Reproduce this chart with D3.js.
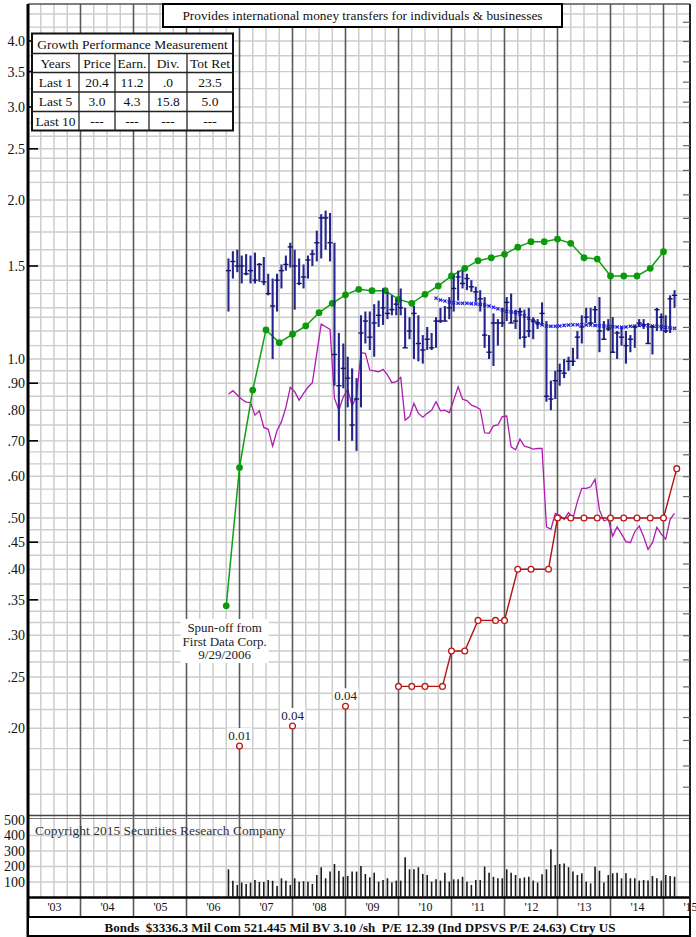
<!DOCTYPE html>
<html><head><meta charset="utf-8">
<script src="https://cdn.jsdelivr.net/npm/d3@7"></script>
<style>
body{margin:0;background:#fff;}
svg{display:block;font-family:"Liberation Serif","Times New Roman",serif;}
</style>
</head><body><svg id="c" width="696" height="937"></svg>
<script>
// ---------------- DATA ----------------
const priceTicks = [4.0,3.5,3.0,2.5,2.0,1.5,1.0,0.9,0.8,0.7,0.6,0.5,0.45,0.4,0.35,0.3,0.25,0.2];
const priceTickLabels = ["4.0","3.5","3.0","2.5","2.0","1.5","1.0",".90",".80",".70",".60",".50",".45",".40",".35",".30",".25",".20"];
const markedTicks = [4.0,3.5,3.0,2.5,1.5,0.9,0.7,0.45,0.35];
const gridValues = [4.5,4.25,4.0,3.75,3.5,3.25,3.0,2.8,2.64,2.5,2.4,2.27,2.16,2.0,1.86,1.74,1.61,1.5,1.41,1.33,1.25,1.2,1.13,1.06,1.0,
  0.95,0.9,0.85,0.8,0.75,0.7,0.667,0.633,0.6,0.567,0.533,0.5,0.475,0.45,0.425,0.4,0.375,0.35,0.333,0.317,0.3,0.28,0.267,0.25,0.233,0.217,0.2,0.183,0.167,0.15];
const rightTicks = [4.35,4.0,3.66,3.35,3.07,2.81,2.54,2.28,2.05,1.85,1.67,1.5,1.3,1.15,1.0,0.87,0.76,0.66,0.6,0.55,0.5,0.45,0.41,0.37,0.33,0.3,0.27,0.24,0.21,0.19,0.17,0.155];
const rightTickLabels = ["60","55","50","45","40","35","30","25","20","18","16","14","12","10","9","8","7","6","5","4.5","4","3.5","3","2.5","2","1.8","1.6","1.4","1.2","1","0.9","0.8"];
const yearLabels = ["'03","'04","'05","'06","'07","'08","'09","'10","'11","'12","'13","'14","'15"];
const volumeTicks = [500,400,300,200,100];
const volumeGrid = [100,200,300,400];

// monthly price bars, Oct 2006 .. Mar 2015
const firstMonth = 2006 + 9.5/12;
const high = [1.55,1.60,1.61,1.57,1.58,1.57,1.59,1.52,1.56,1.45, 1.42,1.45,1.51,1.57,1.66,1.61,1.55,1.51,1.57,1.61,
  1.75,1.88,1.91,1.89,1.66,1.12,1.07,1.01,0.96,0.92, 1.21,1.23,1.23,1.27,1.29,1.36,1.34,1.32,1.30,1.36,
  1.25,1.20,1.26,1.21,1.11,1.15,1.12,1.20,1.25,1.26, 1.31,1.44,1.47,1.47,1.45,1.41,1.37,1.35,1.31,1.11,
  1.22,1.19,1.25,1.31,1.33,1.24,1.25,1.24,1.25,1.20, 1.19,1.28,1.18,0.91,0.95,0.98,1.00,1.01,1.05,1.13,
  1.21,1.25,1.25,1.26,1.31,1.18,1.19,1.20,1.13,1.15, 1.13,1.11,1.16,1.19,1.19,1.17,1.16,1.25,1.22,1.21, 1.32,1.35];
const low = [1.23,1.42,1.46,1.39,1.44,1.39,1.39,1.40,1.38,1.32, 1.00,1.23,1.36,1.47,1.49,1.24,1.38,1.36,1.42,1.50,
  1.53,1.55,1.61,1.53,0.89,0.70,0.88,0.81,0.70,0.67, 0.81,1.07,1.04,1.01,1.15,1.16,1.19,1.21,1.21,1.21,
  1.05,1.09,1.00,0.99,0.98,1.04,1.04,1.05,1.17,1.18, 1.19,1.23,1.29,1.36,1.35,1.34,1.28,1.23,1.05,1.00,
  0.97,1.06,1.15,1.18,1.17,1.14,1.09,1.05,1.10,1.09, 1.14,1.16,0.83,0.80,0.84,0.89,0.92,0.95,0.97,1.00,
  1.07,1.17,1.16,1.17,1.03,1.09,1.13,1.03,1.00,1.06, 0.98,1.03,1.05,1.15,1.14,1.07,1.02,1.13,1.13,1.12, 1.12,1.25];
const close = [1.47,1.53,1.50,1.50,1.45,1.47,1.41,1.51,1.40,1.33, 1.26,1.41,1.47,1.51,1.63,1.50,1.39,1.43,1.54,1.58,
  1.66,1.85,1.85,1.66,1.02,0.89,0.96,0.92,0.75,0.84, 1.12,1.18,1.10,1.17,1.21,1.25,1.22,1.24,1.27,1.25,
  1.05,1.13,1.22,1.07,1.04,1.09,1.05,1.18,1.18,1.18, 1.25,1.36,1.43,1.39,1.42,1.37,1.34,1.30,1.11,1.03,
  1.17,1.17,1.17,1.28,1.17,1.18,1.23,1.10,1.13,1.18, 1.17,1.22,0.85,0.84,0.91,0.95,0.94,0.99,0.99,1.10,
  1.15,1.20,1.17,1.24,1.13,1.09,1.14,1.03,1.12,1.10, 1.06,1.09,1.15,1.17,1.16,1.07,1.15,1.24,1.20,1.13, 1.30,1.32];
// relative strength line (monthly, same months)
const relStrength = [0.858,0.871,0.855,0.839,0.829,0.827,0.783,0.798,0.742,0.736, 0.684,0.732,0.761,0.810,0.884,0.867,0.836,0.861,0.884,0.902,
  1.025,1.165,1.151,1.138,0.843,0.800,0.848,0.876,0.815,0.848, 1.028,1.025,0.953,0.950,0.946,0.956,0.933,0.902,0.906,0.923,
  0.766,0.778,0.824,0.789,0.776,0.789,0.800,0.830,0.798,0.800, 0.791,0.836,0.886,0.839,0.834,0.818,0.812,0.803,0.725,0.723,
  0.747,0.750,0.778,0.780,0.682,0.673,0.705,0.684,0.680,0.675, 0.677,0.677,0.481,0.476,0.510,0.506,0.497,0.512,0.499,0.537,
  0.569,0.569,0.573,0.592,0.518,0.494,0.497,0.462,0.481,0.466, 0.451,0.449,0.471,0.483,0.461,0.436,0.449,0.480,0.466,0.456, 0.497,0.510];
// moving average, from month index 47
const maStartIndex = 47;
const movingAvg = [1.303,1.293,1.288,1.282,1.278,1.275,1.275,1.275,1.273,1.271, 1.269,1.266,1.260,1.253,1.245,1.238,1.231,1.227,1.224,1.217,
  1.206,1.194,1.182,1.168,1.160,1.155,1.153,1.153,1.155,1.158, 1.160,1.161,1.161,1.161,1.160,1.160,1.158,1.156,1.155,1.153,
  1.151,1.150,1.148,1.150,1.153,1.155,1.158,1.158,1.156,1.155, 1.153,1.151,1.148,1.145,1.143];
// earnings line, quarterly from 2006.75
const earnStart = 2006.75;
const earnings = [0.341,0.623,0.873,1.135,1.074,1.114,1.155,1.224,1.275,1.323, 1.355,1.347,1.347,1.297,1.275,1.326,1.375,1.436,1.485,1.535,
  1.555,1.578,1.628,1.668,1.668,1.687,1.656,1.555,1.546,1.436, 1.436,1.436,1.485,1.596];
// dividends
const divTimes = [2010.0,2010.25,2010.5,2010.83,2011.0,2011.25,2011.5,2011.83,2012.0,2012.25,2012.5,2012.83,2013.0,2013.25,2013.5,2013.75,2014.0,2014.25,2014.5,2014.75,2015.0,2015.25];
const divValues = [0.24,0.24,0.24,0.24,0.28,0.28,0.32,0.32,0.32,0.40,0.40,0.40,0.50,0.50,0.50,0.50,0.50,0.50,0.50,0.50,0.50,0.62];
const earlyDivTimes = [2007.0,2008.0,2009.0];
const earlyDivValues = [0.185,0.202,0.220];
const earlyDivLabels = ["0.01","0.04","0.04"];
// volume (thousands of shares), monthly
const volume = [182,108,81,96,87,96,113,100,100,113,108,74,124,108,81,124,102,105,102,87,145,195,124,167,216,171,134,
  139,167,167,203,152,130,160,102,113,124, 96,109,109,259,182,182,195,152,145,102, 117,109,160,102,117,117,134,102,81,113,
  113,199,160,134,124,124,182,160,145,124, 130,134,109,96,150,182,311,210,216,220, 195,167,145,156,102,91,199,173,96,145,
  156,160,124,156,124,124,109,113,109,139, 124,109,145,139,134];
// table
const tableHeader = ["Years","Price","Earn.","Div.","Tot Ret"];
const tableRows = [["Last 1","20.4","11.2",".0","23.5"],["Last 5","3.0","4.3","15.8","5.0"],["Last 10","---","---","---","---"]];
const titleText = "Provides international money transfers for individuals & businesses";
const footerText = "Bonds  $3336.3 Mil Com 521.445 Mil BV 3.10 /sh  P/E 12.39 (Ind DPSVS P/E 24.63) Ctry US";
const spinoffText = ["Spun-off from","First Data Corp.","9/29/2006"];

// ---------------- SCALES ----------------
const svg = d3.select("#c");
const x = d3.scaleLinear().domain([2003, 2015.5]).range([27.5, 690]);
const y = d3.scaleLog().domain([0.137, 4.70]).range([815, 4]);
const yv = d3.scaleLinear().domain([0, 530]).range([897.5, 815.35]);
const monthT = i => firstMonth + i/12;
const L = 28, R = 690;

// ---------------- GRID ----------------
const grid = svg.append("g");
const quarters = d3.range(2003.25, 2015.5, 0.25).filter(q => Math.abs(q - Math.round(q)) > 0.01);
grid.selectAll(".q").data(quarters).join("line")
  .attr("x1", d => x(d)).attr("x2", d => x(d)).attr("y1", 4).attr("y2", 897)
  .attr("stroke", "#cdcdcd").attr("stroke-width", 1.5);
grid.selectAll(".h").data(gridValues).join("line")
  .attr("x1", L).attr("x2", R).attr("y1", d => y(d)).attr("y2", d => y(d))
  .attr("stroke", "#cdcdcd").attr("stroke-width", 1.4);
grid.selectAll(".vg").data(volumeGrid).join("line")
  .attr("x1", L).attr("x2", R).attr("y1", d => yv(d)).attr("y2", d => yv(d))
  .attr("stroke", "#cdcdcd").attr("stroke-width", 1.4);
const yearsT = d3.range(2004, 2016);
grid.selectAll(".yr").data(yearsT).join("line")
  .attr("x1", d => x(d)).attr("x2", d => x(d)).attr("y1", 4).attr("y2", 917)
  .attr("stroke", "#5a5a5a").attr("stroke-width", 1.6);

// frame lines
svg.append("line").attr("x1", L).attr("x2", R).attr("y1", 4).attr("y2", 4).attr("stroke", "#555").attr("stroke-width", 1.5);
svg.append("line").attr("x1", L).attr("x2", R).attr("y1", 815.5).attr("y2", 815.5).attr("stroke", "#444").attr("stroke-width", 1.5);
svg.append("line").attr("x1", L).attr("x2", R).attr("y1", 818.5).attr("y2", 818.5).attr("stroke", "#777").attr("stroke-width", 1);
svg.append("line").attr("x1", L).attr("x2", R).attr("y1", 897.5).attr("y2", 897.5).attr("stroke", "#000").attr("stroke-width", 2.5);
svg.append("line").attr("x1", 28).attr("x2", 28).attr("y1", 4).attr("y2", 937).attr("stroke", "#000").attr("stroke-width", 3);
svg.append("line").attr("x1", 690).attr("x2", 690).attr("y1", 4).attr("y2", 917).attr("stroke", "#222").attr("stroke-width", 2);

// ---------------- AXES ----------------
const axL = svg.append("g").attr("transform", "translate(27,0)")
  .call(d3.axisLeft(y).tickValues(priceTicks).tickFormat((d, i) => priceTickLabels[i]).tickSize(0).tickPadding(2));
axL.select(".domain").remove();
axL.selectAll("text").attr("font-size", 14).attr("fill", "#111").attr("font-family", "Liberation Serif");
svg.selectAll(".mt").data(markedTicks).join("line")
  .attr("x1", 28).attr("x2", 38).attr("y1", d => y(d)).attr("y2", d => y(d))
  .attr("stroke", "#000").attr("stroke-width", 1.6);

const axV = svg.append("g").attr("transform", "translate(27,0)")
  .call(d3.axisLeft(yv).tickValues(volumeTicks).tickSize(0).tickPadding(2));
axV.select(".domain").remove();
axV.selectAll("text").attr("font-size", 14).attr("fill", "#111").attr("font-family", "Liberation Serif");

const axR = svg.append("g").attr("transform", "translate(690,0)")
  .call(d3.axisRight(y).tickValues(rightTicks).tickFormat((d, i) => rightTickLabels[i]).tickSize(-7).tickPadding(10));
axR.select(".domain").remove();
axR.selectAll("line").attr("stroke", "#666").attr("stroke-width", 1.2);
axR.selectAll("text").attr("font-size", 14).attr("fill", "#111").attr("font-family", "Liberation Serif");

const yearMids = d3.range(2003.5, 2016, 1);
const axX = svg.append("g").attr("transform", "translate(0,897.5)")
  .call(d3.axisBottom(x).tickValues(yearMids).tickFormat((d, i) => yearLabels[i]).tickSize(0).tickPadding(5));
axX.select(".domain").remove();
axX.selectAll("text").attr("font-size", 12).attr("fill", "#111").attr("font-family", "Liberation Serif");

// ---------------- VOLUME ----------------
svg.append("g").selectAll("line").data(volume).join("line")
  .attr("x1", (d, i) => x(monthT(i))).attr("x2", (d, i) => x(monthT(i)))
  .attr("y1", yv(0)).attr("y2", d => yv(d))
  .attr("stroke", "#1a1a1a").attr("stroke-width", 1.6);

// ---------------- LINES ----------------
const rsLine = d3.line().x((d, i) => x(monthT(i))).y(d => y(d));
svg.append("path").datum(relStrength).attr("d", rsLine)
  .attr("fill", "none").attr("stroke", "#b01cb0").attr("stroke-width", 1.3);

const earnPts = earnings.map((v, k) => [earnStart + 0.25 * k, v]);
svg.append("path").datum(earnPts).attr("d", d3.line().x(d => x(d[0])).y(d => y(d[1])))
  .attr("fill", "none").attr("stroke", "#11a011").attr("stroke-width", 1.5);
svg.append("g").selectAll("circle").data(earnPts).join("circle")
  .attr("cx", d => x(d[0])).attr("cy", d => y(d[1])).attr("r", 3.4).attr("fill", "#0c9a0c");

// moving average
const maPts = movingAvg.map((v, k) => [monthT(maStartIndex + k), v]);
svg.append("path").datum(maPts).attr("d", d3.line().x(d => x(d[0])).y(d => y(d[1])))
  .attr("fill", "none").attr("stroke", "#3a3aff").attr("stroke-width", 1).attr("stroke-dasharray", "1.5,1.5");
const maG = svg.append("g").attr("stroke", "#1c1cf0").attr("stroke-width", 1.2);
maPts.forEach(d => {
  const cx = x(d[0]), cy = y(d[1]);
  maG.append("path").attr("d", `M${cx-1.6},${cy-1.6}L${cx+1.6},${cy+1.6}M${cx-1.6},${cy+1.6}L${cx+1.6},${cy-1.6}`);
});

// ---------------- PRICE BARS ----------------
const bars = svg.append("g");
high.forEach((h, i) => {
  const cx = x(monthT(i));
  bars.append("line").attr("x1", cx).attr("x2", cx).attr("y1", y(h)).attr("y2", y(low[i]))
    .attr("stroke", "#24248f").attr("stroke-width", 2.1);
  bars.append("line").attr("x1", cx - 2.6).attr("x2", cx + 2.6).attr("y1", y(close[i])).attr("y2", y(close[i]))
    .attr("stroke", "#141470").attr("stroke-width", 1.4);
});

// ---------------- DIVIDENDS ----------------
const divPts = divTimes.map((t, k) => [t, divValues[k]]);
svg.append("path").datum(divPts).attr("d", d3.line().x(d => x(d[0])).y(d => y(d[1])))
  .attr("fill", "none").attr("stroke", "#b01515").attr("stroke-width", 1.4);
svg.append("g").selectAll("circle").data(divPts).join("circle")
  .attr("cx", d => x(d[0])).attr("cy", d => y(d[1])).attr("r", 2.9)
  .attr("fill", "#fff").attr("stroke", "#c01818").attr("stroke-width", 1.3);
const early = earlyDivTimes.map((t, k) => ({t, v: earlyDivValues[k], lab: earlyDivLabels[k]}));
early.forEach(d => {
  const cx = x(d.t), cy = y(d.v);
  const tg = svg.append("g");
  const t = tg.append("text").attr("x", cx).attr("y", cy - 6).attr("text-anchor", "middle")
    .attr("font-size", 13).attr("fill", "#222").text(d.lab);
  const bb = t.node().getBBox();
  tg.insert("rect", "text").attr("x", bb.x - 1).attr("y", bb.y).attr("width", bb.width + 2).attr("height", bb.height).attr("fill", "#fff");
  svg.append("circle").attr("cx", cx).attr("cy", cy).attr("r", 2.9)
    .attr("fill", "#fff").attr("stroke", "#c01818").attr("stroke-width", 1.3);
});

// ---------------- ANNOTATIONS ----------------
const sp = svg.append("g");
const spX = x(2006.72);
spinoffText.forEach((s, k) => {
  sp.append("text").attr("x", spX).attr("y", 632 + 13.5 * k).attr("text-anchor", "middle")
    .attr("font-size", 13).attr("fill", "#222").text(s);
});
const spb = sp.node().getBBox();
sp.insert("rect", "text").attr("x", spb.x - 2).attr("y", spb.y - 1).attr("width", spb.width + 4).attr("height", spb.height + 2).attr("fill", "#fff");

svg.append("text").attr("x", 35).attr("y", 835).attr("font-size", 13.5).attr("fill", "#333")
  .text("Copyright 2015 Securities Research Company");

// title box
svg.append("rect").attr("x", 163).attr("y", 4).attr("width", 399).attr("height", 23)
  .attr("fill", "#fff").attr("stroke", "#000").attr("stroke-width", 2);
svg.append("text").attr("x", 362.5).attr("y", 20).attr("text-anchor", "middle").attr("font-size", 13.3).attr("fill", "#111")
  .text(titleText);

// growth table
const tcols = [32, 79, 115, 149, 187, 233];
const trows = [33.5, 53.5, 72.5, 92, 111.5, 130.5];
const tb = svg.append("g");
tb.append("rect").attr("x", 32).attr("y", 33.5).attr("width", 201).attr("height", 97)
  .attr("fill", "#fff").attr("stroke", "#111").attr("stroke-width", 2);
trows.slice(1, 5).forEach(r => tb.append("line").attr("x1", 32).attr("x2", 233).attr("y1", r).attr("y2", r).attr("stroke", "#222").attr("stroke-width", 1.3));
tcols.slice(1, 5).forEach(c => tb.append("line").attr("x1", c).attr("x2", c).attr("y1", 53.5).attr("y2", 130.5).attr("stroke", "#222").attr("stroke-width", 1.3));
tb.append("text").attr("x", 132.5).attr("y", 48.5).attr("text-anchor", "middle").attr("font-size", 13.5).attr("fill", "#111")
  .text("Growth Performance Measurement");
[tableHeader].concat(tableRows).forEach((row, r) => {
  row.forEach((cell, c) => {
    tb.append("text").attr("x", (tcols[c] + tcols[c + 1]) / 2).attr("y", trows[r + 1] + 14)
      .attr("text-anchor", "middle").attr("font-size", 13.5).attr("fill", "#111").text(cell);
  });
});

// footer box
svg.append("rect").attr("x", 28).attr("y", 917).attr("width", 662).attr("height", 19)
  .attr("fill", "#fff").attr("stroke", "#000").attr("stroke-width", 2);
svg.append("text").attr("x", 360).attr("y", 931.5).attr("text-anchor", "middle").attr("font-size", 13)
  .attr("font-weight", "bold").attr("fill", "#111").style("white-space", "pre").text(footerText);
</script>
</body></html>
